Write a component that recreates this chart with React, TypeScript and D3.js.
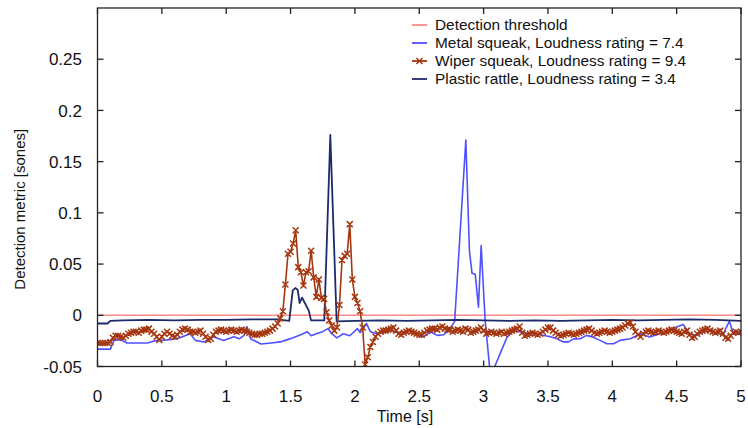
import React from "react";
import * as d3 from "d3";

// ---------- data ----------
const xTicks = [0, 0.5, 1, 1.5, 2, 2.5, 3, 3.5, 4, 4.5, 5];
const xTickLabels = ["0", "0.5", "1", "1.5", "2", "2.5", "3", "3.5", "4", "4.5", "5"];
const yTicks = [-0.05, 0, 0.05, 0.1, 0.15, 0.2, 0.25];
const yTickLabels = ["-0.05", "0", "0.05", "0.1", "0.15", "0.2", "0.25"];

const thresholdValue = 0;

// Metal squeak: [time, value]
const metalSqueak: [number, number][] = [
  [0, -0.033], [0.1, -0.033], [0.13, -0.024], [0.18, -0.024], [0.23, -0.027], [0.3, -0.027],
  [0.39, -0.027], [0.44, -0.025], [0.54, -0.024], [0.6, -0.023], [0.64, -0.022], [0.72, -0.018],
  [0.76, -0.0245], [0.83, -0.026], [0.9, -0.021], [0.98, -0.0245], [1.06, -0.021], [1.1, -0.023],
  [1.14, -0.0196], [1.16, -0.011], [1.19, -0.023], [1.27, -0.028], [1.35, -0.027], [1.42, -0.026],
  [1.47, -0.024], [1.52, -0.022], [1.58, -0.019], [1.63, -0.016], [1.66, -0.02], [1.7, -0.018],
  [1.75, -0.016], [1.79, -0.013], [1.82, -0.018], [1.86, -0.022], [1.91, -0.018], [1.96, -0.02],
  [2.02, -0.013], [2.04, -0.017], [2.07, -0.012], [2.09, -0.008], [2.12, -0.016], [2.17, -0.018],
  [2.22, -0.016], [2.28, -0.015], [2.33, -0.017], [2.38, -0.016], [2.43, -0.0157], [2.48, -0.018],
  [2.53, -0.021], [2.59, -0.0164], [2.64, -0.0196], [2.69, -0.019], [2.74, -0.013], [2.775, -0.006],
  [2.862, 0.171], [2.89, 0.063], [2.91, 0.041], [2.935, 0.04], [2.96, 0.008], [2.981, 0.068],
  [3.012, -0.005], [3.046, -0.05], [3.07, -0.058], [3.09, -0.049], [3.13, -0.037], [3.18, -0.022],
  [3.23, -0.0148], [3.28, -0.016], [3.36, -0.018], [3.44, -0.019], [3.52, -0.021], [3.57, -0.023],
  [3.62, -0.026], [3.66, -0.026], [3.7, -0.023], [3.75, -0.0229], [3.8, -0.0196], [3.85, -0.0213],
  [3.905, -0.0245], [3.957, -0.0278], [4.01, -0.0278], [4.06, -0.0245], [4.14, -0.0229], [4.22, -0.018],
  [4.29, -0.0213], [4.37, -0.018], [4.42, -0.0164], [4.47, -0.013], [4.55, -0.0089], [4.6, -0.018],
  [4.656, -0.0196], [4.707, -0.0164], [4.76, -0.0148], [4.81, -0.018], [4.863, -0.018], [4.91, -0.0057],
  [4.94, -0.018], [5.0, -0.0164],
];

// Wiper squeak: sampled every 0.02 s from t = 0 to 5
const wiperStep = 0.02;
const wiperSqueak = [
  -0.027, -0.027, -0.027, -0.027, -0.027, -0.026, -0.022, -0.02, -0.02, -0.021,
  -0.022, -0.02, -0.018, -0.017, -0.016, -0.016, -0.017, -0.015, -0.014, -0.014,
  -0.013, -0.016, -0.018, -0.021, -0.024, -0.021, -0.018, -0.016, -0.018, -0.02,
  -0.021, -0.019, -0.016, -0.014, -0.013, -0.014, -0.016, -0.016, -0.017, -0.016,
  -0.015, -0.018, -0.021, -0.024, -0.023, -0.019, -0.016, -0.015, -0.014, -0.015,
  -0.016, -0.015, -0.014, -0.015, -0.016, -0.015, -0.014, -0.015, -0.016, -0.017,
  -0.018, -0.019, -0.019, -0.018, -0.018, -0.017, -0.016, -0.015, -0.013, -0.011,
  -0.008, -0.003, 0.004, 0.03, 0.06, 0.062, 0.07, 0.083, 0.047, 0.042,
  0.029, 0.042, 0.043, 0.063, 0.037, 0.018, 0.035, 0.017, 0.016, 0.003,
  -0.005, -0.01, -0.015, -0.012, 0.01, 0.054, 0.058, 0.06, 0.089, 0.035,
  0.018, 0.012, 0.004, -0.012, -0.048, -0.041, -0.031, -0.026, -0.021, -0.018,
  -0.016, -0.015, -0.015, -0.014, -0.013, -0.012, -0.015, -0.018, -0.019, -0.017,
  -0.016, -0.015, -0.016, -0.017, -0.018, -0.019, -0.019, -0.017, -0.015, -0.014,
  -0.013, -0.013, -0.014, -0.012, -0.011, -0.013, -0.014, -0.014, -0.016, -0.015,
  -0.014, -0.015, -0.016, -0.013, -0.014, -0.017, -0.016, -0.015, -0.014, -0.012,
  -0.015, -0.018, -0.017, -0.016, -0.017, -0.018, -0.017, -0.016, -0.018, -0.017,
  -0.016, -0.015, -0.014, -0.013, -0.011, -0.017, -0.02, -0.019, -0.018, -0.017,
  -0.018, -0.019, -0.018, -0.016, -0.014, -0.012, -0.012, -0.015, -0.017, -0.019,
  -0.02, -0.019, -0.018, -0.017, -0.018, -0.019, -0.018, -0.017, -0.016, -0.015,
  -0.014, -0.013, -0.015, -0.017, -0.018, -0.017, -0.016, -0.015, -0.016, -0.017,
  -0.016, -0.015, -0.014, -0.013, -0.012, -0.01, -0.008, -0.007, -0.011, -0.016,
  -0.019, -0.021, -0.018, -0.016, -0.015, -0.016, -0.017, -0.016, -0.015, -0.016,
  -0.017, -0.016, -0.015, -0.014, -0.015, -0.016, -0.017, -0.018, -0.016, -0.015,
  -0.019, -0.022, -0.021, -0.018, -0.016, -0.015, -0.014, -0.013, -0.015, -0.016,
  -0.017, -0.016, -0.015, -0.018, -0.022, -0.023, -0.02, -0.017, -0.016, -0.017,
  -0.016,
];

// Plastic rattle: [time, value]
const plasticRattle: [number, number][] = [
  [0, -0.008], [0.08, -0.008], [0.1, -0.0055], [0.2, -0.005], [0.4, -0.0045], [0.6, -0.005],
  [0.8, -0.0045], [1.0, -0.0045], [1.2, -0.004], [1.4, -0.004], [1.49, -0.0055], [1.517, 0.0243],
  [1.537, 0.0266], [1.555, 0.025], [1.571, 0.012], [1.589, 0.0172], [1.607, 0.013], [1.641, 0.0048],
  [1.659, -0.005], [1.762, -0.005], [1.809, 0.176], [1.858, -0.006], [2.0, -0.0055], [2.2, -0.005],
  [2.4, -0.0055], [2.6, -0.005], [2.8, -0.0045], [3.0, -0.005], [3.2, -0.0055], [3.4, -0.005],
  [3.6, -0.0055], [3.8, -0.005], [4.0, -0.0045], [4.2, -0.005], [4.4, -0.0045], [4.6, -0.004],
  [4.8, -0.0045], [5.0, -0.0055],
];

const legendLabels = [
  "Detection threshold",
  "Metal squeak, Loudness rating = 7.4",
  "Wiper squeak, Loudness rating = 9.4",
  "Plastic rattle, Loudness rating = 3.4",
];

// ---------- styling ----------
const W = 748;
const H = 428;
const M = { left: 97.5, right: 741, top: 8, bottom: 366.5 };
const COLORS = {
  threshold: "#ff8a8a",
  metal: "#5050ff",
  wiper: "#a5360f",
  plastic: "#1b2a6b",
  axis: "#222",
};
const FONT = "'Liberation Sans', Arial, Helvetica, sans-serif";

export default function App() {
  const x = d3.scaleLinear().domain([0, 5]).range([M.left, M.right]);
  const y = d3.scaleLinear().domain([-0.05, 0.3]).range([M.bottom, M.top]);

  const line = d3
    .line<[number, number]>()
    .x((d) => x(d[0]))
    .y((d) => y(d[1]));

  const wiperPts: [number, number][] = wiperSqueak.map((v, i) => [i * wiperStep, v]);
  const thresholdPts: [number, number][] = [
    [0, thresholdValue],
    [5, thresholdValue],
  ];

  const cross = (cx: number, cy: number, s: number) =>
    `M${cx - s},${cy - s}L${cx + s},${cy + s}M${cx - s},${cy + s}L${cx + s},${cy - s}`;

  const markerPath = wiperPts.map((d) => cross(x(d[0]), y(d[1]), 3)).join("");

  const tickLen = 6;
  const legendY = [25, 43, 61, 79];
  const legendX1 = 412;
  const legendX2 = 427;
  const legendTextX = 435;

  return (
    <svg
      width={W}
      height={H}
      style={{ position: "fixed", left: 0, top: 0, background: "#fff" }}
      fontFamily={FONT}
    >
      <defs>
        <clipPath id="plotClip">
          <rect x={M.left} y={M.top} width={M.right - M.left} height={M.bottom - M.top} />
        </clipPath>
      </defs>
      <rect x={0} y={0} width={W} height={H} fill="#fff" />

      <g clipPath="url(#plotClip)" fill="none" strokeLinejoin="round">
        <path d={line(thresholdPts) || ""} stroke={COLORS.threshold} strokeWidth={1.6} />
        <path d={line(metalSqueak) || ""} stroke={COLORS.metal} strokeWidth={1.6} />
        <path d={line(plasticRattle) || ""} stroke={COLORS.plastic} strokeWidth={1.8} />
        <path d={line(wiperPts) || ""} stroke={COLORS.wiper} strokeWidth={1.6} />
        <path d={markerPath} stroke={COLORS.wiper} strokeWidth={1.5} />
      </g>

      {/* frame */}
      <rect
        x={M.left}
        y={M.top}
        width={M.right - M.left}
        height={M.bottom - M.top}
        fill="none"
        stroke={COLORS.axis}
        strokeWidth={1.3}
      />

      {/* x ticks */}
      {xTicks.map((t, i) => (
        <g key={"xt" + i}>
          <line x1={x(t)} x2={x(t)} y1={M.bottom} y2={M.bottom - tickLen} stroke={COLORS.axis} strokeWidth={1.3} />
          <line x1={x(t)} x2={x(t)} y1={M.top} y2={M.top + tickLen} stroke={COLORS.axis} strokeWidth={1.3} />
          <text x={x(t)} y={402} textAnchor="middle" fontSize={17} fill="#111">
            {xTickLabels[i]}
          </text>
        </g>
      ))}

      {/* y ticks */}
      {yTicks.map((t, i) => (
        <g key={"yt" + i}>
          <line x1={M.left} x2={M.left + tickLen} y1={y(t)} y2={y(t)} stroke={COLORS.axis} strokeWidth={1.3} />
          <line x1={M.right} x2={M.right - tickLen} y1={y(t)} y2={y(t)} stroke={COLORS.axis} strokeWidth={1.3} />
          <text x={82} y={y(t)} dy="0.36em" textAnchor="end" fontSize={17} fill="#111">
            {yTickLabels[i]}
          </text>
        </g>
      ))}

      {/* axis titles */}
      <text x={405} y={422} textAnchor="middle" fontSize={16} fill="#111">
        Time [s]
      </text>
      <text
        transform={`translate(25,${(M.top + M.bottom) / 2 + 22}) rotate(-90)`}
        textAnchor="middle"
        fontSize={15}
        fill="#111"
      >
        Detection metric [sones]
      </text>

      {/* legend */}
      <g fontSize={15.4} fill="#111">
        {[COLORS.threshold, COLORS.metal, COLORS.wiper, COLORS.plastic].map((c, i) => (
          <g key={"lg" + i}>
            <line x1={legendX1} x2={legendX2} y1={legendY[i]} y2={legendY[i]} stroke={c} strokeWidth={1.8} />
            {i === 2 && (
              <path
                d={cross((legendX1 + legendX2) / 2, legendY[i], 3)}
                stroke={c}
                strokeWidth={1.5}
                fill="none"
              />
            )}
            <text x={legendTextX} y={legendY[i]} dy="0.35em">
              {legendLabels[i]}
            </text>
          </g>
        ))}
      </g>
    </svg>
  );
}
